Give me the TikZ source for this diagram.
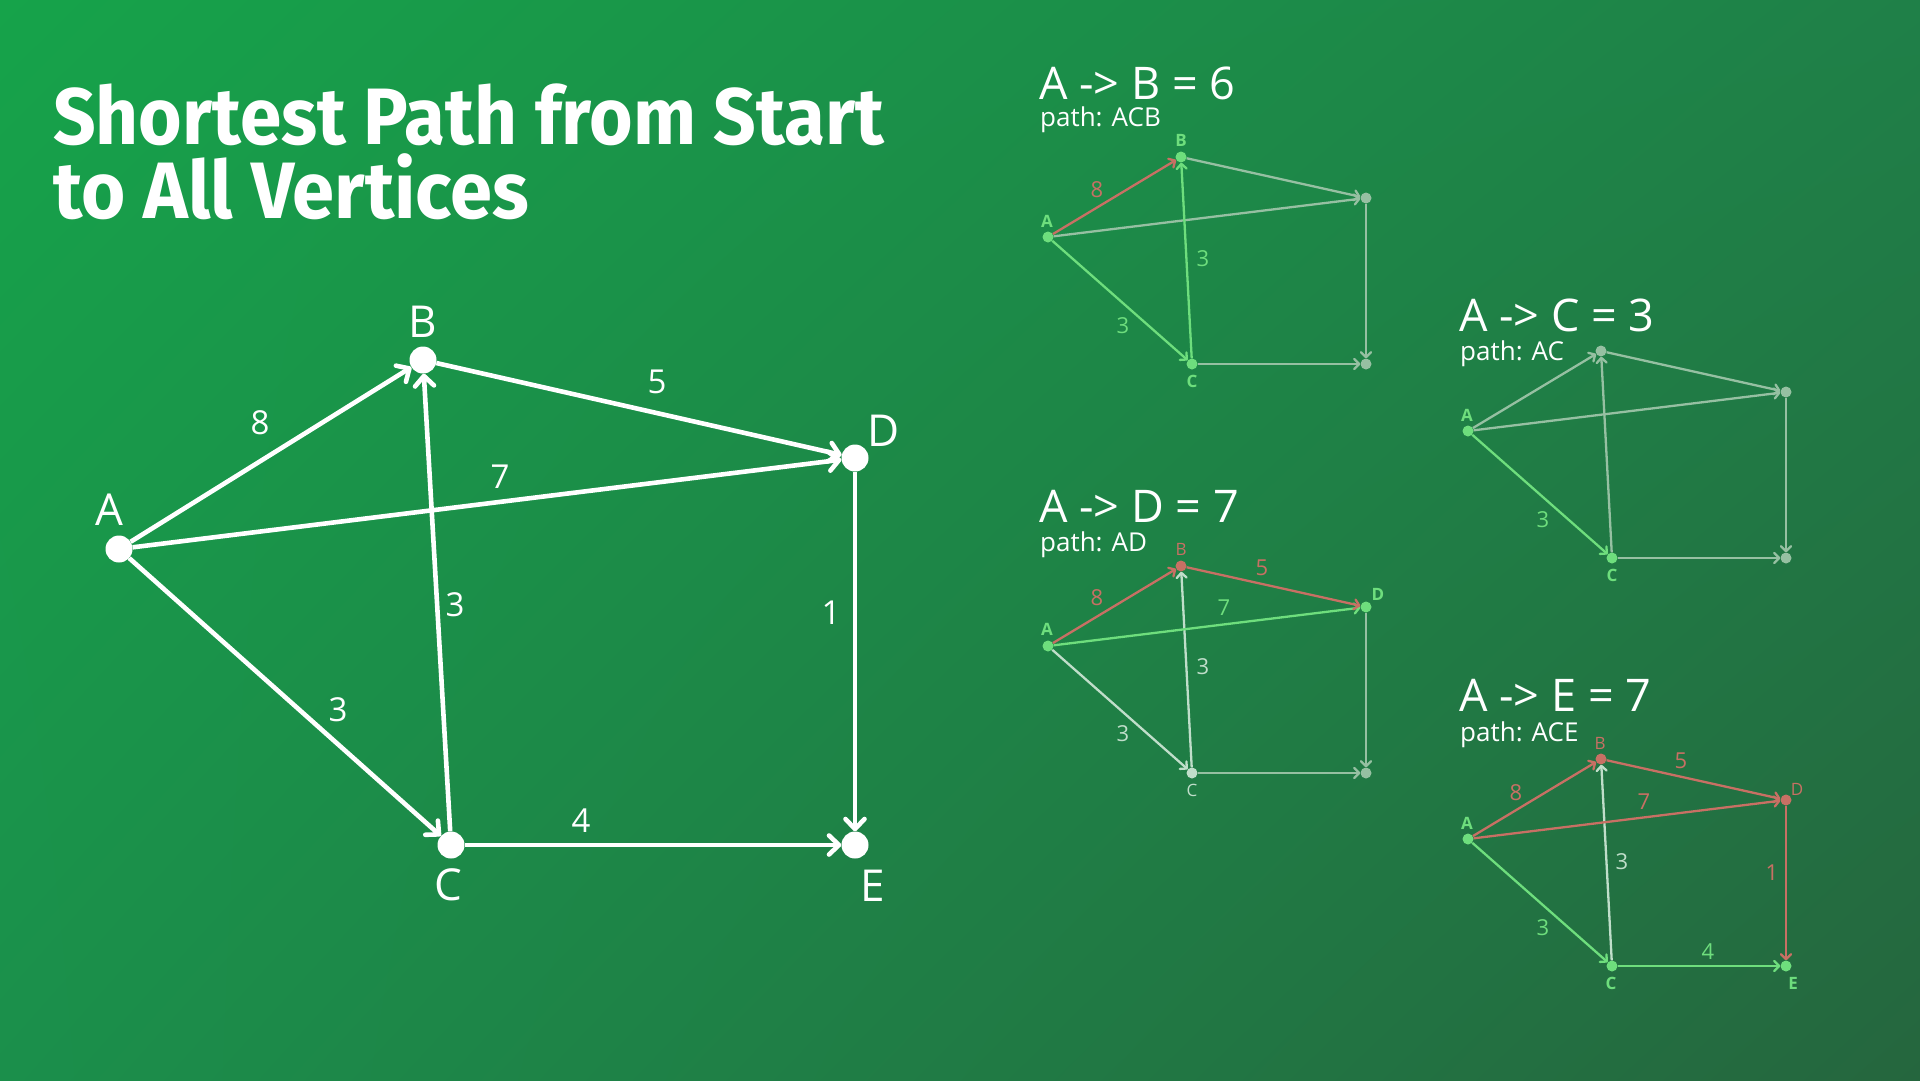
\documentclass[tikz,border=0pt]{standalone}
\usepackage{fontspec}
\usepackage{graphicx}
\setmainfont{Open Sans}
\newfontfamily\titlefont{Fira Sans}
\usetikzlibrary{arrows.meta,shadings}
\definecolor{bgUL}{RGB}{22,163,74}
\definecolor{bgUR}{RGB}{31,128,72}
\definecolor{bgLL}{RGB}{27,143,75}
\definecolor{bgLR}{RGB}{37,102,62}
\definecolor{cgreen}{RGB}{110,222,125}
\definecolor{cred}{RGB}{200,112,100}
\definecolor{cfade}{RGB}{150,192,162}
\definecolor{clight}{RGB}{192,222,202}
\tikzset{
  mn/.style={circle, fill=white, inner sep=0pt, minimum size=27pt},
  me/.style={draw=white, line width=4.6pt, -{Straight Barb[length=10pt,width=19pt,round]}},
  mlab/.style={text=white, inner sep=0pt, font=\fontsize{44}{52}\selectfont},
  mw/.style={text=white, inner sep=0pt, font=\fontsize{33}{40}\selectfont},
  sn/.style={circle, inner sep=0pt, minimum size=11pt},
  ngreen/.style={sn, fill=cgreen},
  nred/.style={sn, fill=cred},
  nfade/.style={sn, fill=cfade},
  nlight/.style={sn, fill=clight},
  se/.style={line width=2.3pt, -{Straight Barb[length=5pt,width=10pt,round]}},
  egreen/.style={se, draw=cgreen},
  ered/.style={se, draw=cred},
  efade/.style={se, draw=cfade},
  elight/.style={se, draw=clight},
  slabB/.style={inner sep=0pt, font=\bfseries\fontsize{17}{20}\selectfont},
  slabR/.style={inner sep=0pt, font=\fontsize{17}{20}\selectfont},
  sw/.style={inner sep=0pt, font=\fontsize{22}{26}\selectfont},
  stitle/.style={anchor=base west, inner sep=0pt, text=white, font=\fontsize{45}{52}\selectfont},
  spath/.style={anchor=base west, inner sep=0pt, text=white, font=\fontsize{26}{30}\selectfont},
}
\begin{document}
\begin{tikzpicture}[x=1pt,y=-1pt]
\shade[upper left=bgUL, upper right=bgUR, lower left=bgLL, lower right=bgLR] (0,0) rectangle (1920,1080);
\useasboundingbox (0,0) rectangle (1920,1080);

% main title
\node[anchor=base west, inner sep=0pt, text=white] (t1) at (53,144)
  {\resizebox{831pt}{\height}{\titlefont\bfseries\fontsize{80}{80}\selectfont Shortest Path from Start}};
\node[anchor=base west, inner sep=0pt, text=white] (t2) at (53,218)
  {\resizebox{476pt}{\height}{\titlefont\bfseries\fontsize{80}{80}\selectfont to All Vertices}};

% main graph
\node[mn] (A) at (119,549) {};
\node[mn] (B) at (423,360) {};
\node[mn] (C) at (451,845) {};
\node[mn] (D) at (855,458) {};
\node[mn] (E) at (855,845) {};
\draw[me] (A) -- (B);
\draw[me] (A) -- (D);
\draw[me] (A) -- (C);
\draw[me] (B) -- (D);
\draw[me] (C) -- (B);
\draw[me] (D) -- (E);
\draw[me] (C) -- (E);
\node[mlab] (lA) at (109,510) {A};
\node[mlab] (lB) at (423,322) {B};
\node[mlab] (lC) at (448,885) {C};
\node[mlab] (lD) at (884,431) {D};
\node[mlab] (lE) at (873,886) {E};
\node[mw] (w8) at (260,423) {8};
\node[mw] (w7) at (500,477) {7};
\node[mw] (w5) at (657,382) {5};
\node[mw] (w3a) at (455,605) {3};
\node[mw] (w3b) at (338,710) {3};
\node[mw] (w1) at (831,613) {1};
\node[mw] (w4) at (581,821) {4};

% graph 1: A -> B
\node[stitle] (g1t) at (1039,99) {A -> B = 6};
\node[spath] (g1p) at (1040,126) {path: ACB};
\begin{scope}[shift={(1048,237)}]
\node[ngreen] (g1A) at (0,0) {};
\node[ngreen] (g1B) at (133,-80) {};
\node[nfade] (g1D) at (318,-39) {};
\node[ngreen] (g1C) at (144,127) {};
\node[nfade] (g1E) at (318,127) {};
\draw[efade] (g1B) -- (g1D);
\draw[efade] (g1A) -- (g1D);
\draw[efade] (g1D) -- (g1E);
\draw[efade] (g1C) -- (g1E);
\draw[ered] (g1A) -- (g1B);
\draw[egreen] (g1A) -- (g1C);
\draw[egreen] (g1C) -- (g1B);
\node[slabB, text=cgreen] (g1lA) at (-1,-16) {A};
\node[slabB, text=cgreen] (g1lB) at (133,-97) {B};
\node[slabB, text=cgreen] (g1lC) at (144,144) {C};
\node[sw, text=cred] (g1w8) at (49,-47) {8};
\node[sw, text=cgreen] (g1w3a) at (155,22) {3};
\node[sw, text=cgreen] (g1w3b) at (75,89) {3};
\end{scope}

% graph 2: A -> C
\node[stitle] (g2t) at (1459,331) {A -> C = 3};
\node[spath] (g2p) at (1460,360) {path: AC};
\begin{scope}[shift={(1468,431)}]
\node[ngreen] (g2A) at (0,0) {};
\node[nfade] (g2B) at (133,-80) {};
\node[nfade] (g2D) at (318,-39) {};
\node[ngreen] (g2C) at (144,127) {};
\node[nfade] (g2E) at (318,127) {};
\draw[efade] (g2A) -- (g2B);
\draw[efade] (g2B) -- (g2D);
\draw[efade] (g2A) -- (g2D);
\draw[efade] (g2C) -- (g2B);
\draw[efade] (g2D) -- (g2E);
\draw[efade] (g2C) -- (g2E);
\draw[egreen] (g2A) -- (g2C);
\node[slabB, text=cgreen] (g2lA) at (-1,-16) {A};
\node[slabB, text=cgreen] (g2lC) at (144,144) {C};
\node[sw, text=cgreen] (g2w3b) at (75,89) {3};
\end{scope}

% graph 3: A -> D
\node[stitle] (g3t) at (1039,522) {A -> D = 7};
\node[spath] (g3p) at (1040,551) {path: AD};
\begin{scope}[shift={(1048,646)}]
\node[ngreen] (g3A) at (0,0) {};
\node[nred] (g3B) at (133,-80) {};
\node[ngreen] (g3D) at (318,-39) {};
\node[nlight] (g3C) at (144,127) {};
\node[nfade] (g3E) at (318,127) {};
\draw[efade] (g3D) -- (g3E);
\draw[efade] (g3C) -- (g3E);
\draw[elight] (g3A) -- (g3C);
\draw[elight] (g3C) -- (g3B);
\draw[egreen] (g3A) -- (g3D);
\draw[ered] (g3A) -- (g3B);
\draw[ered] (g3B) -- (g3D);
\node[slabB, text=cgreen] (g3lA) at (-1,-17) {A};
\node[slabR, text=cred] (g3lB) at (133,-97) {B};
\node[slabB, text=cgreen] (g3lD) at (330,-52) {D};
\node[slabR, text=clight] (g3lC) at (144,144) {C};
\node[sw, text=cred] (g3w8) at (49,-48) {8};
\node[sw, text=cred] (g3w5) at (214,-78) {5};
\node[sw, text=cgreen] (g3w7) at (176,-38) {7};
\node[sw, text=clight] (g3w3a) at (155,21) {3};
\node[sw, text=clight] (g3w3b) at (75,88) {3};
\end{scope}

% graph 4: A -> E
\node[stitle] (g4t) at (1459,711) {A -> E = 7};
\node[spath] (g4p) at (1460,741) {path: ACE};
\begin{scope}[shift={(1468,839)}]
\node[ngreen] (g4A) at (0,0) {};
\node[nred] (g4B) at (133,-80) {};
\node[nred] (g4D) at (318,-39) {};
\node[ngreen] (g4C) at (144,127) {};
\node[ngreen] (g4E) at (318,127) {};
\draw[elight] (g4C) -- (g4B);
\draw[ered] (g4A) -- (g4B);
\draw[ered] (g4B) -- (g4D);
\draw[ered] (g4A) -- (g4D);
\draw[ered] (g4D) -- (g4E);
\draw[egreen] (g4A) -- (g4C);
\draw[egreen] (g4C) -- (g4E);
\node[slabB, text=cgreen] (g4lA) at (-1,-16) {A};
\node[slabR, text=cred] (g4lB) at (132,-96) {B};
\node[slabR, text=cred] (g4lD) at (329,-50) {D};
\node[slabB, text=cgreen] (g4lC) at (143,144) {C};
\node[slabB, text=cgreen] (g4lE) at (325,144) {E};
\node[sw, text=cred] (g4w8) at (48,-46) {8};
\node[sw, text=cred] (g4w5) at (213,-78) {5};
\node[sw, text=cred] (g4w7) at (176,-37) {7};
\node[sw, text=clight] (g4w3a) at (154,23) {3};
\node[sw, text=cred] (g4w1) at (304,34) {1};
\node[sw, text=cgreen] (g4w3b) at (75,89) {3};
\node[sw, text=cgreen] (g4w4) at (240,113) {4};
\end{scope}
\end{tikzpicture}
\end{document}
